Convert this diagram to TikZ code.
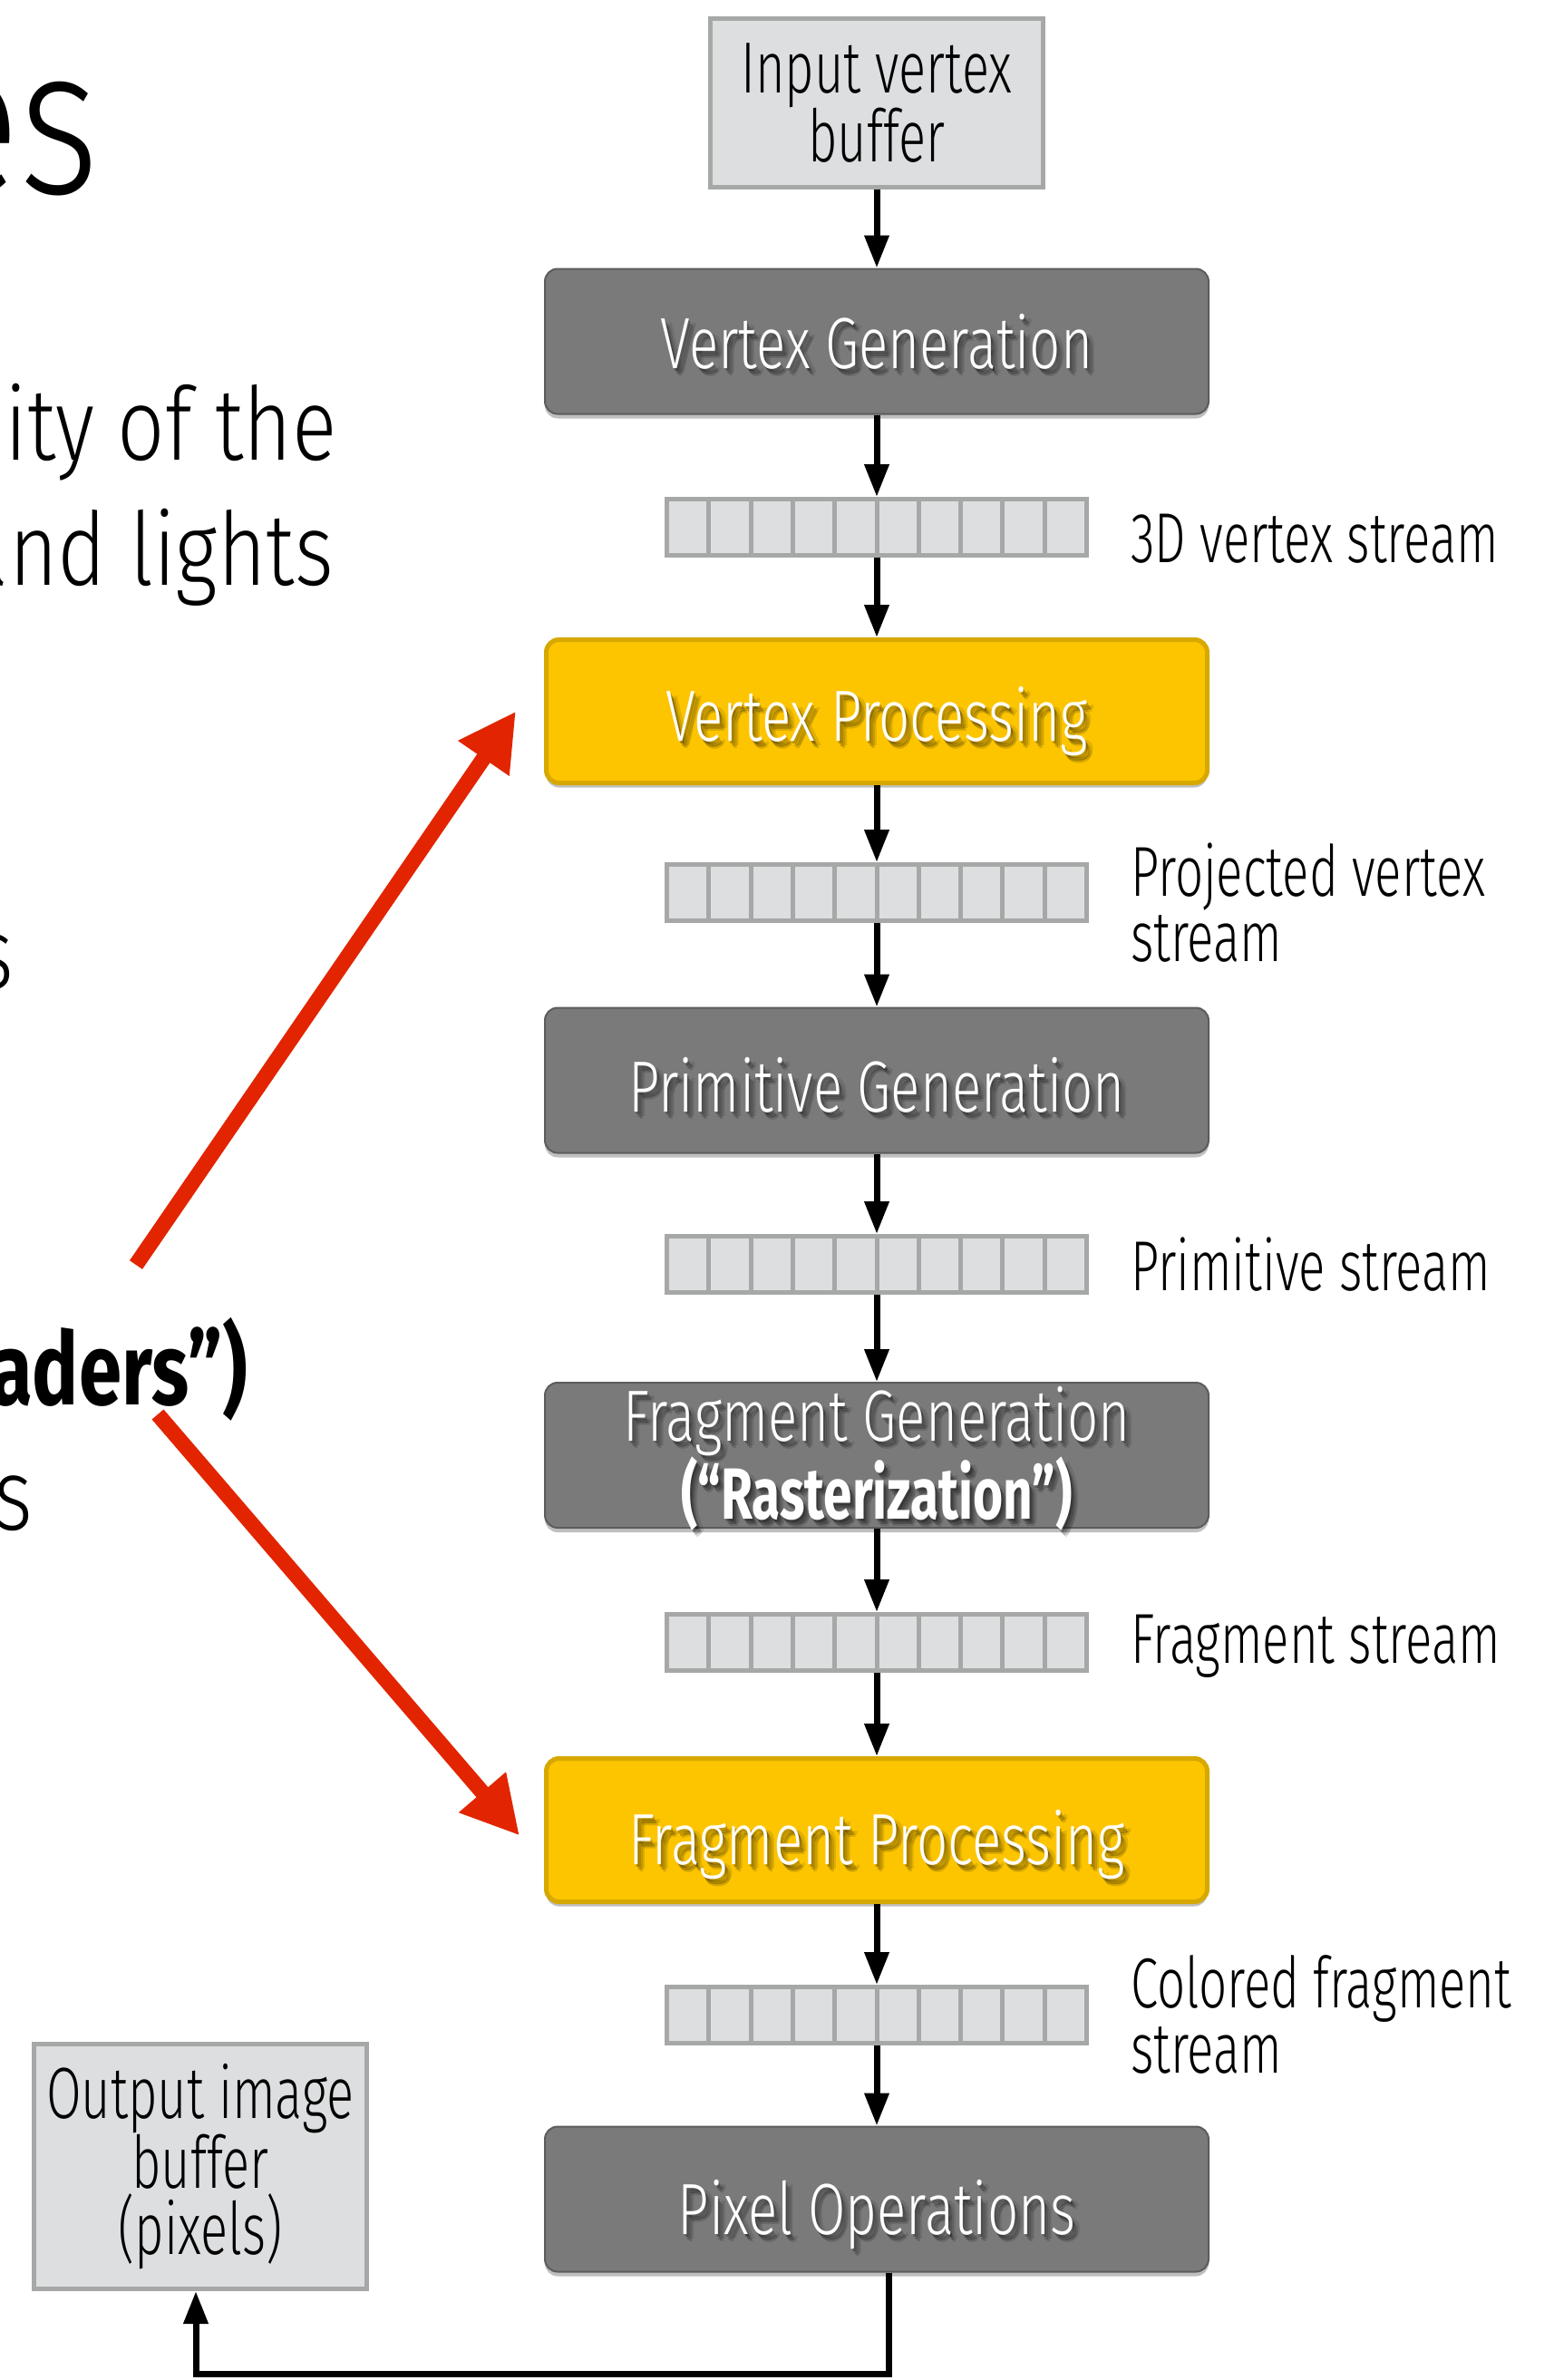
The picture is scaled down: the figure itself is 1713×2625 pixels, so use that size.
\documentclass[tikz,border=0pt]{standalone}
\usepackage{fontspec}
\setmainfont{Fira Sans Light}[FakeStretch=0.70, BoldFont={Fira Sans Bold}]
\newfontfamily\boxfam{Fira Sans Light}[FakeStretch=0.75, BoldFont={Fira Sans Bold}, BoldFeatures={FakeStretch=0.71}]
\newfontfamily\sidefam{Fira Sans Light}[FakeStretch=0.82, BoldFont={Fira Sans Bold}, BoldFeatures={FakeStretch=0.76}]
\usetikzlibrary{arrows.meta,shadows,calc}
\definecolor{procgray}{HTML}{7A7A7A}
\definecolor{procedge}{HTML}{5C5C5C}
\definecolor{shadeyel}{HTML}{FDC500}
\definecolor{shadeedge}{HTML}{D6A800}
\definecolor{buffill}{HTML}{DDDEDF}
\definecolor{bufedge}{HTML}{A6A8A7}
\definecolor{hotred}{HTML}{E22500}
\newcommand\boxfont{\boxfam\fontsize{80}{74}\selectfont}
\newcommand\bufont{\fontsize{80}{73}\selectfont}
\newcommand\lblfont{\fontsize{78}{74}\selectfont}
\newcommand\sidefont{\sidefam\fontsize{112}{112}\selectfont}
% #1 name, #2 y position, #3 text : white box title with a soft dark shadow
\newcommand\glowtext[3]{%
  \foreach \dx/\dy/\op in {2/3/0.24,4/6/0.20,6/8/0.14,8/5/0.10}{%
    \node[glowshade,text opacity=\op] at (967+\dx,#2+\dy) {#3};}%
  \node[glowtitle] (#1) at (967,#2) {#3};}
\begin{document}
\begin{tikzpicture}[x=1pt,y=-1pt,
  flow/.style={line width=7pt,-{Triangle[length=36pt,width=26pt]}},
  redarrow/.style={draw=hotred,line width=17pt,line cap=butt,-{Triangle[length=63pt,width=64pt]}},
  glowtitle/.style={text=white,font=\boxfont,align=center},
  glowshade/.style={text=black,font=\boxfont,align=center},
  procbox/.style={rounded corners=14pt,fill=procgray,draw=procedge,line width=2pt,
    minimum width=732pt,minimum height=160pt,
    drop shadow={shadow xshift=0pt,shadow yshift=-5pt,opacity=0.25,fill=black}},
  shadebox/.style={procbox,fill=shadeyel,draw=shadeedge,line width=5pt,
    minimum width=729pt,minimum height=158pt},
  ivbox/.style={fill=buffill,draw=bufedge,line width=5pt,minimum width=367pt,
    text=black,font=\bufont,align=center},
  streambar/.style={fill=buffill,draw=bufedge,line width=5pt,minimum width=463pt,
    minimum height=62pt,inner sep=0pt,
    path picture={\foreach \i in {1,...,9}{\draw[bufedge,line width=5pt]
      ($(path picture bounding box.north west)!\i/10!(path picture bounding box.north east)$) --
      ($(path picture bounding box.south west)!\i/10!(path picture bounding box.south east)$);}}},
  lbl/.style={font=\lblfont,text=black,anchor=base west,inner sep=0pt},
  side/.style={font=\sidefont,text=black,anchor=base east,inner sep=0pt}
]
\useasboundingbox (0,0) rectangle (1713,2625);
\fill[white] (0,0) rectangle (1713,2625);

% left slide text (cut off at the edge)
\node[side,font=\sidefam\fontsize{231}{231}\selectfont] (t0) at (110,214) {es};
\node[side] (t1) at (372,507) {ity of the};
\node[side] (t2) at (368,645) {and lights};
\node[side] (t3) at (15,1090) {s};
\node[side] (t4) at (273,1549) {\textbf{aders”)}};
\node[side] (t5) at (36,1687) {s};

% pipeline boxes
\node[ivbox,minimum height=186pt] (ivb) at (967,113.5) {Input vertex\\buffer};
\node[procbox] (vg) at (967,376.5) {};
\node[streambar] (s1) at (967,581.5) {};
\node[shadebox] (vp) at (967,784.5) {};
\node[streambar] (s2) at (967,984.5) {};
\node[procbox] (pg) at (967,1191.5) {};
\node[streambar] (s3) at (967,1394.5) {};
\node[procbox] (fg) at (967,1605) {};
\node[streambar] (s4) at (967,1811.5) {};
\node[shadebox] (fp) at (967,2018.5) {};
\node[streambar] (s5) at (967,2222.5) {};
\node[procbox] (po) at (967,2425.5) {};
\node[ivbox,minimum height=270pt] (ob) at (221,2389.5) {Output image\\buffer\\(pixels)};

% box titles
\glowtext{vgt}{376.5}{Vertex Generation}
\glowtext{vpt}{796}{Vertex Processing}
\glowtext{pgt}{1197}{Primitive Generation}
\glowtext{fgt}{1609}{Fragment Generation\\\textbf{(“Rasterization”)}}
\glowtext{fpt}{2035}{Fragment Processing}
\glowtext{pot}{2443}{Pixel Operations}

% stream labels
\node[lbl] (l1) at (1247,620) {3D vertex stream};
\node[lbl] (l2a) at (1247,988) {Projected vertex};
\node[lbl] (l2b) at (1247,1060) {stream};
\node[lbl] (l3) at (1247,1423) {Primitive stream};
\node[lbl] (l4) at (1247,1834) {Fragment stream};
\node[lbl] (l5a) at (1247,2214) {Colored fragment};
\node[lbl] (l5b) at (1247,2286) {stream};

% flow arrows
\draw[flow] (ivb) -- (vg);
\draw[flow] (vg) -- (s1);
\draw[flow] (s1) -- (vp);
\draw[flow] (vp) -- (s2);
\draw[flow] (s2) -- (pg);
\draw[flow] (pg) -- (s3);
\draw[flow] (s3) -- (fg);
\draw[flow] (fg) -- (s4);
\draw[flow] (s4) -- (fp);
\draw[flow] (fp) -- (s5);
\draw[flow] (s5) -- (po);
\coordinate (cbr) at (980,2618);
\coordinate (cbl) at (216,2618);
\draw[flow] (po.south -| cbr) -- (cbr) -- (cbl) -- (cbl |- ob.south);

% red arrows
\coordinate (r1s) at (150,1395);
\coordinate (r2s) at (174,1560);
\draw[redarrow] (r1s) -- ([xshift=-31pt]vp.west);
\draw[redarrow] (r2s) -- ([xshift=-27pt,yshift=-6pt]fp.west);
\end{tikzpicture}
\end{document}
